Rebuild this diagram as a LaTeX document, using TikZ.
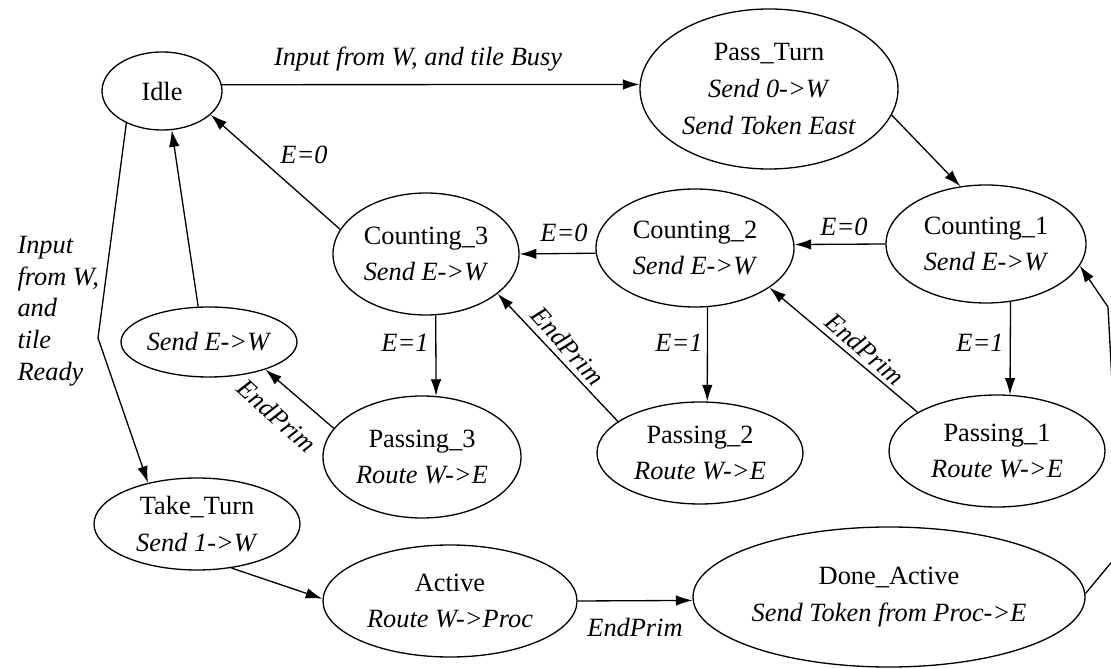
\documentclass[tikz,border=0pt]{standalone}
\usepackage{fontspec}
\setmainfont{Liberation Serif}
\usetikzlibrary{shapes.geometric,arrows.meta}

\begin{document}
\begin{tikzpicture}[>={Latex[length=9.5pt,width=6pt]},line width=0.75pt,
  st/.style={draw,ellipse,inner sep=0pt,align=center,font=\fontsize{15}{21}\selectfont},
  lbl/.style={font=\fontsize{15}{18}\selectfont\itshape}]
  \useasboundingbox (0,0) rectangle (22.22,13.36);
  \clip (0,0) rectangle (22.22,13.36);
  \node[st,minimum width=2.4cm,minimum height=1.56cm] (idle) at (3.24,11.54) {Idle};
  \node[st,minimum width=5.16cm,minimum height=3.2cm] (passturn) at (15.38,11.58) {Pass\_Turn\\\textit{Send 0->W}\\\textit{Send Token East}};
  \node[st,minimum width=4.0cm,minimum height=2.36cm] (count1) at (19.72,8.48) {Counting\_1\\\textit{Send E->W}};
  \node[st,minimum width=3.96cm,minimum height=2.36cm] (count2) at (13.9,8.4) {Counting\_2\\\textit{Send E->W}};
  \node[st,minimum width=3.72cm,minimum height=2.44cm] (count3) at (8.52,8.28) {Counting\_3\\\textit{Send E->W}};
  \node[st,minimum width=3.48cm,minimum height=1.4cm] (sendew) at (4.18,6.52) {\textit{Send E->W}};
  \node[st,minimum width=3.96cm,minimum height=2.44cm] (pass3) at (8.44,4.22) {Passing\_3\\\textit{Route W->E}};
  \node[st,minimum width=4.12cm,minimum height=2.04cm] (pass2) at (14.0,4.3) {Passing\_2\\\textit{Route W->E}};
  \node[st,minimum width=4.32cm,minimum height=2.24cm] (pass1) at (19.94,4.34) {Passing\_1\\\textit{Route W->E}};
  \node[st,minimum width=4.12cm,minimum height=1.84cm] (taketurn) at (3.94,2.88) {Take\_Turn\\\textit{Send 1->W}};
  \node[st,minimum width=5.08cm,minimum height=2.24cm] (active) at (9.0,1.34) {Active\\\textit{Route W->Proc}};
  \node[st,minimum width=7.84cm,minimum height=2.8cm] (doneactive) at (17.78,1.42) {Done\_Active\\\textit{Send Token from Proc->E}};
  \coordinate (bend) at (1.96,6.6);
  \coordinate (r1) at (22.6,2.56);
  \coordinate (r2) at (22.28,4.96);
  \coordinate (r3) at (22.16,7.22);
  \draw[->] (idle.6) -- (passturn.178);
  \draw[->] (passturn.-12) -- (count1.114);
  \draw[->] (count1.180) -- (count2.2);
  \draw[->] (count2.183) -- (count3.0);
  \draw[->] (count3.164) -- (idle.-26);
  \draw[->] (sendew.107) -- (idle.-76);
  \draw[->] (idle.222) -- (bend) -- (taketurn.140);
  \draw[->] (count3.-81) -- (pass3.77);
  \draw[->] (pass3.162) -- (sendew.-26);
  \draw[->] (pass2.159) -- (count3.-29);
  \draw[->] (pass1.154) -- (count2.-28);
  \draw[->] (count2.-78) -- (pass2.82);
  \draw[->] (count1.-67) -- (pass1.77);
  \draw[->] (doneactive.1) -- (r1) -- (r2) -- (r3) -- (count1.-13);
  \draw[->] (taketurn.-52) -- (active.179);
  \draw[->] (active.0) -- (doneactive.181);
  \node[lbl] (lbusy) at (8.36,12.18) {Input from W, and tile Busy};
  \node[lbl] (lc1) at (16.88,8.82) {E=0};
  \node[lbl] (lc2) at (11.28,8.7) {E=0};
  \node[lbl] (lc3) at (6.08,10.26) {E=0};
  \node[lbl] (lp3) at (8.1,6.5) {E=1};
  \node[lbl] (lp2) at (13.58,6.5) {E=1};
  \node[lbl] (lp1) at (19.6,6.5) {E=1};
  \node[lbl,rotate=-42] (lend3) at (5.54,5.04) {EndPrim};
  \node[lbl,rotate=-48] (lend2) at (11.36,6.44) {EndPrim};
  \node[lbl,rotate=-41] (lend1) at (17.3,6.38) {EndPrim};
  \node[lbl] (lendact) at (12.7,0.82) {EndPrim};
  \node[lbl,anchor=west,align=left] (lready) at (0.22,7.14) {Input\\from W,\\and\\tile\\Ready};
\end{tikzpicture}
\end{document}
